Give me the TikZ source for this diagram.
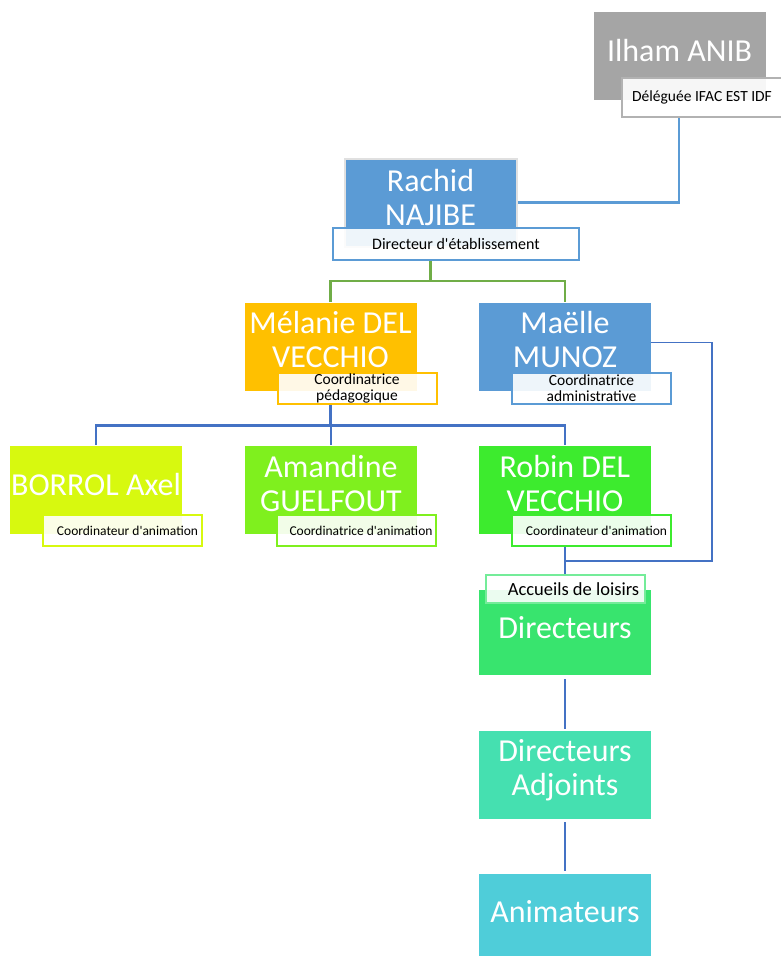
\documentclass[tikz,border=0pt]{standalone}
\usepackage{fontspec}
\setmainfont{Carlito}[Ligatures=TeXOff]
\usepackage{tikz}

\definecolor{ggray}{HTML}{A5A5A5}
\definecolor{gblue}{HTML}{5B9BD5}
\definecolor{dblue}{HTML}{4472C4}
\definecolor{ggreen}{HTML}{70AD47}
\definecolor{gold}{HTML}{FFC000}
\definecolor{lime}{HTML}{D7F90F}
\definecolor{apple}{HTML}{7FF01E}
\definecolor{grass}{HTML}{3DEB2E}
\definecolor{emer}{HTML}{38E46E}
\definecolor{aqua}{HTML}{45E0B0}
\definecolor{teal2}{HTML}{4FCDD9}

\begin{document}
\begin{tikzpicture}[x=1pt,y=-1pt,
    namebox/.style={rectangle,minimum width=172pt,minimum height=88pt,inner sep=0pt},
    nametext/.style={text=white,align=center,inner sep=0pt,
                     font=\fontsize{32}{34}\selectfont},
    tagbox/.style={rectangle,line width=2pt,fill=white,fill opacity=0.9,text opacity=1,
                   text=black,minimum width=159pt,minimum height=31pt,inner sep=0pt,
                   align=center,font=\fontsize{13.5}{16}\selectfont},
    twoline/.style={font=\fontsize{15.5}{16}\selectfont},
    conn/.style={line width=2.2pt}]

  \useasboundingbox (0,0) rectangle (780,956);

  % delegue
  \node (ilham) [namebox,fill=ggray] at (679.5,56) {};
  \node (ilham-t) [nametext] at ([yshift=5pt]ilham.center) {Ilham ANIB};
  \node (deleg) [tagbox,draw=ggray!85,minimum width=160pt,minimum height=39pt,
                 font=\fontsize{15.5}{17}\selectfont] at (702,97.5) {Déléguée IFAC EST IDF};

  % direction
  \node (rachid) [namebox,fill=gblue,draw=black!12,line width=2pt] at (430.5,202.5) {};
  \node (rachid-t) [nametext] at ([yshift=5pt]rachid.center) {Rachid\\NAJIBE};
  \node (dirlab) [tagbox,draw=gblue,minimum width=246pt,minimum height=32pt,
                  font=\fontsize{16}{18}\selectfont] at (456,244) {Directeur d'établissement};

  % coordinatrices
  \node (melanie) [namebox,fill=gold] at (330.5,346.5) {};
  \node (melanie-t) [nametext] at ([yshift=7pt]melanie.center) {Mélanie DEL\\VECCHIO};
  \node (pedlab) [tagbox,twoline,draw=gold] at (357,388) {Coordinatrice\\pédagogique};

  \node (maelle) [namebox,fill=gblue] at (565,346.5) {};
  \node (maelle-t) [nametext] at ([yshift=7pt]maelle.center) {Maëlle\\MUNOZ};
  \node (admlab) [tagbox,twoline,draw=gblue] at (591.5,388) {Coordinatrice\\administrative};

  % animation
  \node (borrol) [namebox,fill=lime] at (96,489.5) {};
  \node (borrol-t) [nametext] at ([yshift=5pt]borrol.center) {BORROL Axel};
  \node (borlab) [tagbox,draw=lime] at (122.5,530.5) {\hspace*{10pt}Coordinateur d'animation};

  \node (amandine) [namebox,fill=apple] at (331,489.5) {};
  \node (amandine-t) [nametext] at ([yshift=6pt]amandine.center) {Amandine\\GUELFOUT};
  \node (amalab) [tagbox,draw=apple] at (356,530.5) {\hspace*{10pt}Coordinatrice d'animation};

  \node (robin) [namebox,fill=grass] at (565,489.5) {};
  \node (robin-t) [nametext] at ([yshift=6pt]robin.center) {Robin DEL\\VECCHIO};
  \node (roblab) [tagbox,draw=grass] at (591.5,530.5) {\hspace*{10pt}Coordinateur d'animation};

  % accueils de loisirs
  \node (dir) [namebox,fill=emer,minimum height=85pt] at (565,632.5) {};
  \node (dir-t) [nametext] at ([yshift=5pt]dir.center) {Directeurs};
  \node (accueil) [tagbox,draw=emer!70,minimum height=28pt,
                   font=\fontsize{18.5}{20}\selectfont] at (565.5,589) {\hspace*{16pt}Accueils de loisirs};

  \node (adj) [namebox,fill=aqua] at (565,775) {};
  \node (adj-t) [nametext] at ([yshift=5pt]adj.center) {Directeurs\\Adjoints};

  \node (anim) [namebox,fill=teal2] at (565,918) {};
  \node (anim-t) [nametext] at ([yshift=6pt]anim.center) {Animateurs};

  % liens
  \draw[conn,gblue] ([xshift=-23pt]deleg.south) |- (rachid.east);

  \draw[conn,ggreen] (dirlab.south -| rachid) -- ++(0,20) coordinate (fork1) -| (melanie.north);
  \draw[conn,ggreen] (fork1) -| (maelle.north);

  \draw[conn,dblue] (pedlab.south -| melanie) -- ++(0,21) coordinate (fork2) -| (borrol.north);
  \draw[conn,dblue] (fork2) -| (amandine.north);
  \draw[conn,dblue] (fork2) -| (robin.north);

  \coordinate (join) at ([yshift=13pt]accueil.north -| robin);
  \draw[conn,dblue,line width=1.5pt] ([yshift=4pt]maelle.east) -- ++(61,0) |- (join);
  \draw[conn,dblue] (roblab.south -| robin) -- (accueil.north -| robin);

  \draw[conn,dblue,shorten <=4pt,shorten >=2pt] (dir.south) -- (adj.north);
  \draw[conn,dblue,shorten <=3pt,shorten >=3pt] (adj.south) -- (anim.north);
\end{tikzpicture}
\end{document}
